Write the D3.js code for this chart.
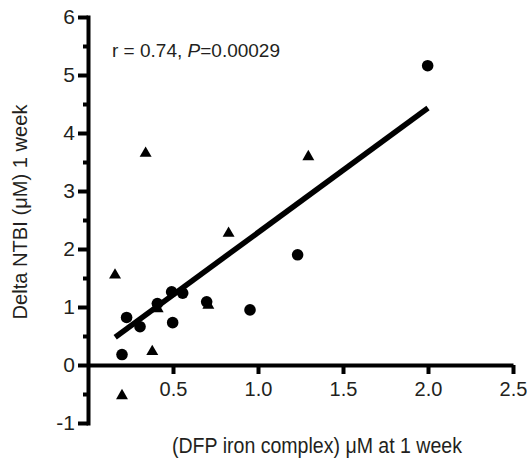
<!DOCTYPE html>
<html>
<head>
<meta charset="utf-8">
<script src="https://cdn.jsdelivr.net/npm/d3@7"></script>
<style>
  body { margin: 0; background: #fff; }
  svg text { font-family: "Liberation Sans", Arial, sans-serif; fill: #231f20; }
</style>
</head>
<body>
<svg id="chart" width="527" height="458"></svg>
<script>
// circles
const circleX = [0.20, 0.227, 0.306, 0.408, 0.492, 0.557, 0.498, 0.698, 0.953, 1.233, 1.998];
const circleY = [0.18, 0.82, 0.66, 1.06, 1.26, 1.24, 0.73, 1.09, 0.95, 1.90, 5.16];
// triangles
const triX = [0.159, 0.339, 0.827, 0.378, 0.20, 0.41, 0.708, 1.296];
const triY = [1.55, 3.65, 2.27, 0.23, -0.53, 0.97, 1.03, 3.59];
// fitted line end points
const fitX = [0.16, 2.0];
const fitY = [0.48, 4.43];

const xTicks = [0.5, 1.0, 1.5, 2.0, 2.5];
const yTicks = [-1, 0, 1, 2, 3, 4, 5, 6];
const yMinor = [-0.5, 0.5, 1.5, 2.5, 3.5, 4.5, 5.5];

const svg = d3.select('#chart');

const x = d3.scaleLinear().domain([0, 2.5]).range([88, 513]);
const y = d3.scaleLinear().domain([-1, 6]).range([423, 17]);

// y axis minor ticks
svg.append('g')
  .attr('transform', `translate(${x(0)},0)`)
  .call(d3.axisLeft(y).tickValues(yMinor).tickSize(5).tickSizeOuter(0).tickFormat(''))
  .call(g => g.select('.domain').remove())
  .call(g => g.selectAll('line').attr('stroke', '#000').attr('stroke-width', 4));

// y axis
svg.append('g')
  .attr('transform', `translate(${x(0)},0)`)
  .call(d3.axisLeft(y).tickValues(yTicks).tickSize(10).tickSizeOuter(0).tickPadding(3).tickFormat(d => String(d)))
  .call(g => g.select('.domain').attr('stroke', '#000').attr('stroke-width', 4).attr('stroke-linecap', 'square'))
  .call(g => g.selectAll('line').attr('stroke', '#000').attr('stroke-width', 4))
  .call(g => g.selectAll('text').attr('font-size', 21).attr('font-family', null).attr('fill', null));

// x axis
svg.append('g')
  .attr('transform', `translate(0,${y(0)})`)
  .call(d3.axisBottom(x).tickValues(xTicks).tickSize(9).tickSizeOuter(0).tickPadding(8).tickFormat(d3.format('.1f')))
  .call(g => g.select('.domain').attr('stroke', '#000').attr('stroke-width', 4))
  .call(g => g.selectAll('line').attr('stroke', '#000').attr('stroke-width', 4))
  .call(g => g.selectAll('text').attr('font-size', 20).attr('font-family', null).attr('fill', null));

// regression line
const line = d3.line()
  .x(d => x(d[0]))
  .y(d => y(d[1]));

svg.append('path')
  .datum(d3.zip(fitX, fitY))
  .attr('fill', 'none')
  .attr('stroke', '#000')
  .attr('stroke-width', 5.5)
  .attr('d', line);

// triangles
svg.selectAll('.tri')
  .data(d3.zip(triX, triY))
  .enter()
  .append('path')
  .attr('class', 'tri')
  .attr('transform', d => `translate(${x(d[0])},${y(d[1])})`)
  .attr('d', d3.symbol(d3.symbolTriangle).size(62))
  .attr('fill', '#000');

// circles
svg.selectAll('.dot')
  .data(d3.zip(circleX, circleY))
  .enter()
  .append('circle')
  .attr('class', 'dot')
  .attr('cx', d => x(d[0]))
  .attr('cy', d => y(d[1]))
  .attr('r', 5.8)
  .attr('fill', '#000');

// annotation
const note = svg.append('text')
  .attr('x', 112).attr('y', 57)
  .attr('font-size', 19);
note.append('tspan').text('r = 0.74, ');
note.append('tspan').attr('font-style', 'italic').text('P');
note.append('tspan').text('=0.00029');

// axis titles (narrow font look)
svg.append('text')
  .attr('x', 317).attr('y', 453)
  .attr('text-anchor', 'middle')
  .attr('font-size', 22)
  .attr('textLength', 290)
  .attr('lengthAdjust', 'spacingAndGlyphs')
  .text('(DFP iron complex) μM at 1 week');

svg.append('text')
  .attr('transform', 'translate(27,212) rotate(-90)')
  .attr('text-anchor', 'middle')
  .attr('font-size', 21)
  .attr('textLength', 215)
  .attr('lengthAdjust', 'spacingAndGlyphs')
  .text('Delta NTBI (μM) 1 week');
</script>
</body>
</html>
